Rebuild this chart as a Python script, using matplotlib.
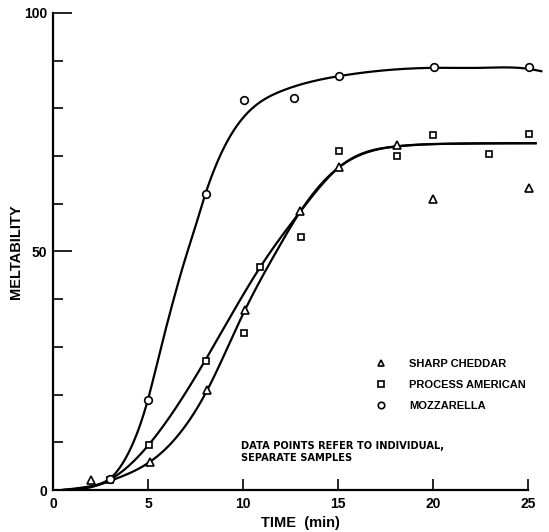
import numpy as np
import matplotlib
matplotlib.use("Agg")
import matplotlib.pyplot as plt

plt.rcParams["font.family"] = ["Liberation Sans", "DejaVu Sans"]
plt.rcParams["font.weight"] = "bold"
plt.rcParams["axes.labelweight"] = "bold"

# -----------------------------
# Data points
# -----------------------------
cheddar_t = [2.0, 5.1, 8.1, 10.1, 13.0, 15.05, 18.1, 20.0, 25.05]
cheddar_m = [2.0, 5.9, 20.9, 37.7, 58.5, 67.8, 72.3, 61.0, 63.3]

american_t = [3.0, 5.05, 8.05, 10.05, 10.9, 13.05, 15.05, 18.1, 20.0, 22.95, 25.05]
american_m = [2.2, 9.4, 27.0, 32.9, 46.8, 53.1, 71.1, 70.0, 74.4, 70.4, 74.6]

mozz_t = [3.0, 5.0, 8.05, 10.05, 12.7, 15.05, 20.05, 25.05]
mozz_m = [2.3, 18.9, 62.1, 81.8, 82.2, 86.8, 88.7, 88.7]

x_ticks = [0, 5, 10, 15, 20, 25]
x_tick_labels = ["0", "5", "10", "15", "20", "25"]
y_ticks = [0, 50, 100]
y_tick_labels = ["0", "50", "100"]

# -----------------------------
# Hand-drawn fitted curves (traced knots)
# -----------------------------
mozz_curve_t = [0.5, 2.0, 3.0, 4.0, 5.0, 5.6, 6.25, 7.0, 7.4, 8.0, 8.6, 9.3, 10.4,
                12.0, 15.1, 17.5, 20.0, 22.5, 25.0, 25.7]
mozz_curve_m = [0.0, 0.8, 2.4, 8.0, 19.0, 28.5, 38.5, 49.0, 54.0, 61.8, 68.3, 74.0, 79.7,
                83.6, 86.8, 88.0, 88.5, 88.5, 88.3, 87.8]

american_curve_t = [0.5, 2.0, 3.0, 5.0, 8.0, 11.0, 13.0, 15.1, 18.0, 21.0, 25.4]
american_curve_m = [0.0, 0.7, 2.2, 9.3, 27.1, 47.3, 58.3, 67.8, 72.0, 72.6, 72.7]

cheddar_curve_t = [0.5, 2.0, 3.0, 5.1, 8.1, 10.1, 11.8, 13.0, 15.1, 18.0, 21.0, 25.4]
cheddar_curve_m = [0.0, 0.6, 1.9, 5.9, 20.8, 37.7, 50.3, 58.3, 67.8, 72.0, 72.6, 72.7]


def natural_spline(x, y, xs):
    # natural cubic spline through the traced knots, only for smooth drawing
    x = np.asarray(x, float)
    y = np.asarray(y, float)
    n = len(x)
    h = np.diff(x)
    A = np.zeros((n, n))
    r = np.zeros(n)
    A[0, 0] = A[-1, -1] = 1
    for i in range(1, n - 1):
        A[i, i - 1] = h[i - 1]
        A[i, i] = 2 * (h[i - 1] + h[i])
        A[i, i + 1] = h[i]
        r[i] = 3 * ((y[i + 1] - y[i]) / h[i] - (y[i] - y[i - 1]) / h[i - 1])
    c = np.linalg.solve(A, r)
    b = (y[1:] - y[:-1]) / h - h * (2 * c[:-1] + c[1:]) / 3
    d = (c[1:] - c[:-1]) / (3 * h)
    idx = np.clip(np.searchsorted(x, xs) - 1, 0, n - 2)
    dx = xs - x[idx]
    return y[idx] + b[idx] * dx + c[idx] * dx**2 + d[idx] * dx**3


def smooth(t, m):
    ts = np.linspace(t[0], t[-1], 500)
    return ts, np.clip(natural_spline(t, m, ts), 0, None)


# -----------------------------
# Plot
# -----------------------------
fig = plt.figure(figsize=(5.49, 5.32), dpi=100)
ax = fig.add_axes([53 / 549, 42 / 532, 494 / 549, 477 / 532])

line_kw = dict(color="black", lw=1.6, zorder=2)
for t, m in [(mozz_curve_t, mozz_curve_m),
             (american_curve_t, american_curve_m),
             (cheddar_curve_t, cheddar_curve_m)]:
    ax.plot(*smooth(t, m), **line_kw)

mk = dict(color="black", mfc="white", mew=1.2, ls="none", zorder=3)
ax.plot(cheddar_t, cheddar_m, marker="^", ms=5.5, label="SHARP CHEDDAR", **mk)
ax.plot(american_t, american_m, marker="s", ms=4.8, label="PROCESS AMERICAN", **mk)
ax.plot(mozz_t, mozz_m, marker="o", ms=5.5, label="MOZZARELLA", **mk)

ax.set_xlim(0, 26)
ax.set_ylim(0, 100)

for side in ["top", "right"]:
    ax.spines[side].set_visible(False)
ax.spines["left"].set_linewidth(1.6)
ax.spines["bottom"].set_linewidth(1.6)
ax.spines["bottom"].set_bounds(0, 25)
ax.spines["left"].set_bounds(0, 100)

ax.set_xticks(x_ticks, labels=x_tick_labels, fontweight="bold", fontsize=10)
ax.tick_params(axis="x", direction="in", length=8, width=1.2, pad=5)
ax.set_yticks(y_ticks, labels=y_tick_labels, fontweight="bold", fontsize=10)
ax.set_yticks(np.arange(10, 100, 10), minor=True)
ax.tick_params(axis="y", which="major", direction="in", length=14, width=1.2, pad=4)
ax.tick_params(axis="y", which="minor", direction="in", length=7, width=1.2)
ax.tick_params(axis="x", which="minor", bottom=False)

ax.set_xlabel("TIME  (min)", fontsize=10.5, labelpad=4)
ax.set_ylabel("MELTABILITY", fontsize=10.5, labelpad=1)

leg = ax.legend(loc="upper left", bbox_to_anchor=(0.642, 0.287), frameon=False,
                prop=dict(size=8, weight="bold"), handlelength=1.0, handletextpad=2.0,
                labelspacing=1.0, borderpad=0, markerscale=0.85)

ax.text(9.9, 10.3, "DATA POINTS REFER TO INDIVIDUAL,\nSEPARATE SAMPLES",
        fontsize=7.1, va="top", ha="left", linespacing=1.25, family="DejaVu Sans")

fig.savefig("out.png", dpi=100)
